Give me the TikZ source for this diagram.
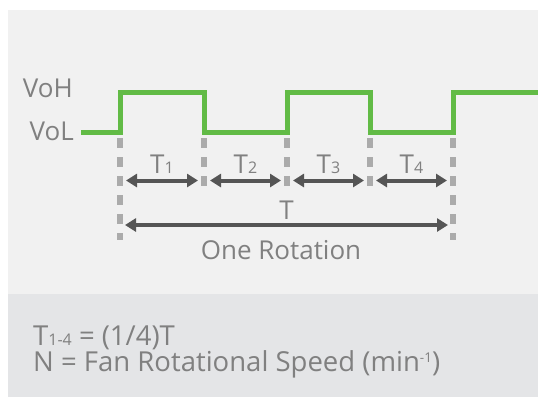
\documentclass[tikz,border=0pt]{standalone}
\usepackage{fontspec}
\setmainfont{Open Sans}
\usetikzlibrary{arrows.meta}
\definecolor{sig}{HTML}{62BB46}
\definecolor{tick}{HTML}{ABABAB}
\definecolor{dimc}{HTML}{555555}
\definecolor{txt}{HTML}{808080}
\definecolor{panel}{HTML}{F1F1F1}
\definecolor{note}{HTML}{E4E5E7}
\newcommand\lo[1]{{\fontsize{16bp}{16bp}\selectfont #1}}
\newcommand\hi[1]{\raisebox{8.5bp}{\fontsize{13.5bp}{13.5bp}\selectfont #1}}
\tikzset{
  wave/.style={sig,line width=5bp,line join=miter},
  tickline/.style={tick,line width=6bp,dash pattern=on 10bp off 9bp},
  dimline/.style={dimc,line width=4bp,{Triangle[length=11bp,width=13bp]}-{Triangle[length=11bp,width=13bp]}},
  lbl/.style={text=txt,inner sep=0pt,font=\fontsize{26bp}{26bp}\selectfont},
  notelbl/.style={lbl,font=\fontsize{27.5bp}{27.5bp}\selectfont}
}

\begin{document}
\begin{tikzpicture}[x=1bp,y=-1bp]
    \useasboundingbox (0,0) rectangle (539,397);
    \fill[panel] (8,10) rectangle (538,294);
    \fill[note] (8,294) rectangle (538,397);
    \foreach \i/\x in {0/120,1/204,2/287,3/370,4/453}{
      \coordinate (e\i) at (\x,132);
      \coordinate (h\i) at (\x,92);
      \coordinate (a\i) at (\x,180.5);
      \coordinate (d\i) at (\x,188);
    }
    \coordinate (d0) at (120,240);
    \coordinate (d4) at (453,240);
    \coordinate (start) at (81,132);
    \coordinate (stop) at (538,92);
    % ticks under the edges
    \foreach \i in {0,...,4}{
      \draw[tickline] ([yshift=-6bp]e\i) -- (d\i);
    }
    % signal
    \draw[wave] (start) -- (e0) -- (h0) -- (h1) -- (e1) -- (e2) -- (h2)
      -- (h3) -- (e3) -- (e4) -- (h4) -- (stop);
    \node[lbl,anchor=base east] (voh) at (73,97) {VoH};
    \node[lbl,anchor=base east] (vol) at (74,140) {VoL};
    % quarter periods
    \foreach \i/\j in {0/1,1/2,2/3,3/4}{
      \draw[dimline] ([xshift=6bp]a\i) -- ([xshift=-6bp]a\j);
      \path (a\i) -- (a\j) coordinate[midway] (m\j);
      \node[lbl,anchor=base] (t\j) at ([yshift=7.5bp]m\j) {T\lo{\j}};
    }
    % full period
    \coordinate (p0) at (120,225);
    \coordinate (p4) at (453,225);
    \draw[dimline] ([xshift=5bp]p0) -- ([xshift=-5bp]p4);
    \node[lbl,anchor=base] (per) at (286.5,219) {T};
    \node[lbl,anchor=base] (rot) at (281,259) {One Rotation};
    % notes
    \node[notelbl,anchor=base west] (n1) at (33,345) {T\lo{1-4} = (1/4)T};
    \node[notelbl,anchor=base west] (n2) at (33,371) {N = Fan Rotational Speed (min\hi{-1})};
\end{tikzpicture}
\end{document}
